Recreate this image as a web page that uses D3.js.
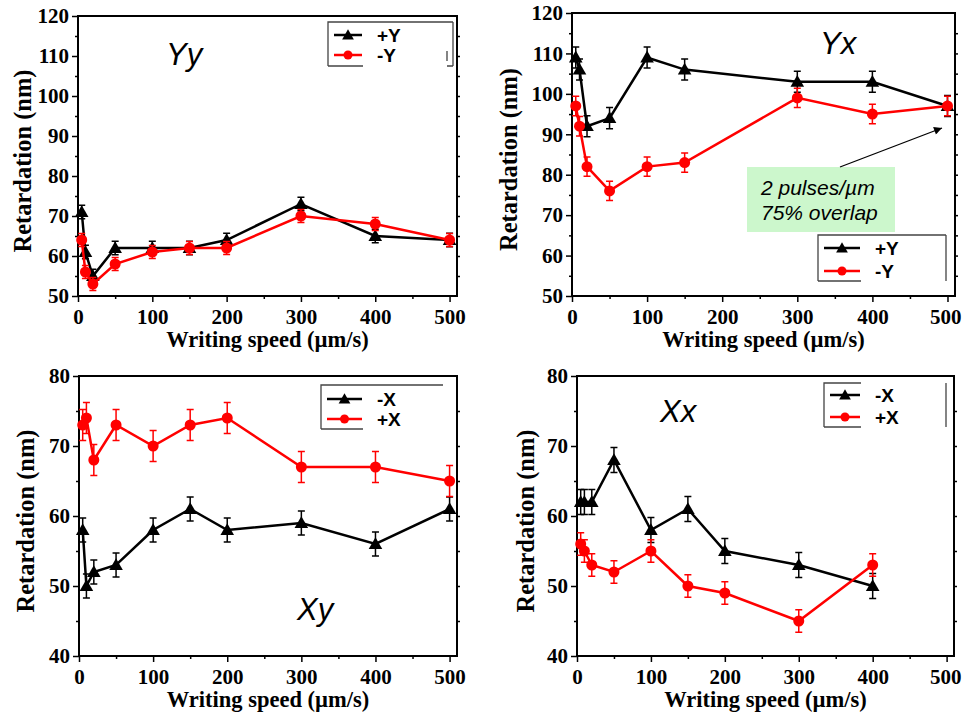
<!DOCTYPE html>
<html>
<head>
<meta charset="utf-8">
<script src="https://cdn.jsdelivr.net/npm/d3@7"></script>
<style>
  body { margin: 0; background: #fff; }
  .tick-label { font-family: "Liberation Serif", "Times New Roman", serif; font-weight: bold; font-size: 21px; }
  .axis-label { font-family: "Liberation Serif", "Times New Roman", serif; font-weight: bold; font-size: 22.5px; }
  .y-label { font-size: 24.5px; }
  .panel-name { font-family: "Liberation Sans", Arial, sans-serif; font-style: italic; font-size: 31px; }
  .legend-text { font-family: "Liberation Sans", Arial, sans-serif; font-weight: bold; font-size: 19px; }
  .note { font-family: "Liberation Sans", Arial, sans-serif; font-style: italic; font-size: 21px; }
</style>
</head>
<body>
<svg width="962" height="716"></svg>
<script>
const svg = d3.select('svg');
const width = +svg.attr('width');

// data
const speeds = [5, 10, 20, 50, 100, 150, 200, 300, 400, 500];
const speedsYx = [5, 10, 20, 50, 100, 150, 300, 400, 500];
const speedsXx = [5, 10, 20, 50, 100, 150, 200, 300, 400];

const yyPlusY  = [71, 61, 55, 62, 62, 62, 64, 73, 65, 64];
const yyMinusY = [64, 56, 53, 58, 61, 62, 62, 70, 68, 64];

const yxPlusY  = [109, 106, 92, 94, 109, 106, 103, 103, 97];
const yxMinusY = [97, 92, 82, 76, 82, 83, 99, 95, 97];

const xyMinusX = [58, 50, 52, 53, 58, 61, 58, 59, 56, 61];
const xyPlusX  = [73, 74, 68, 73, 70, 73, 74, 67, 67, 65];

const xxMinusX = [62, 62, 62, 68, 58, 61, 55, 53, 50];
const xxPlusX  = [56, 55, 53, 52, 55, 50, 49, 45, 53];

// error bar half-heights
const yyErr = [1.7, 1.6];
const yxErr = [2.6, 2.4];
const xyErr = [1.7, 2.2];
const xxErr = [1.8, 1.6];

const xTicks = [0, 100, 200, 300, 400, 500];
const yTicksTop = [50, 60, 70, 80, 90, 100, 110, 120];
const yTicksBottom = [40, 50, 60, 70, 80];

const panels = [
  { box: [78, 16, 457, 296], yDom: [50, 120], yTicks: yTicksTop, ylOff: 56, name: 'Yy', namePos: [166, 65],
    series: [
      { x: speeds, y: yyPlusY, err: yyErr[0], color: '#000', shape: 'tri', label: '+Y' },
      { x: speeds, y: yyMinusY, err: yyErr[1], color: '#ff0000', shape: 'circle', label: '-Y' }],
    legend: { x0: 328, y0: 22, x1: 453, y1: 66, bottomTo: 363, rightFrom: 22, topTo: 453, stub: true, rows: [35, 55] } },
  { box: [572, 13, 955, 296], yDom: [50, 120], yTicks: yTicksTop, ylOff: 64, name: 'Yx', namePos: [820, 54],
    series: [
      { x: speedsYx, y: yxPlusY, err: yxErr[0], color: '#000', shape: 'tri', label: '+Y' },
      { x: speedsYx, y: yxMinusY, err: yxErr[1], color: '#ff0000', shape: 'circle', label: '-Y' }],
    legend: { x0: 818, y0: 235, x1: 946, y1: 281, bottomTo: 861, rightFrom: 235, topTo: 946, stub: false, rows: [248, 271] } },
  { box: [79, 376, 457, 656], yDom: [40, 80], yTicks: yTicksBottom, ylOff: 54, name: 'Xy', namePos: [297, 620],
    series: [
      { x: speeds, y: xyMinusX, err: xyErr[0], color: '#000', shape: 'tri', label: '-X' },
      { x: speeds, y: xyPlusX, err: xyErr[1], color: '#ff0000', shape: 'circle', label: '+X' }],
    legend: { x0: 321, y0: 385, x1: 443, y1: 429, bottomTo: 363, rightFrom: null, topTo: 443, stub: false, rows: [399, 419] } },
  { box: [577, 376, 954, 656], yDom: [40, 80], yTicks: yTicksBottom, ylOff: 52, name: 'Xx', namePos: [660, 422],
    series: [
      { x: speedsXx, y: xxMinusX, err: xxErr[0], color: '#000', shape: 'tri', label: '-X' },
      { x: speedsXx, y: xxPlusX, err: xxErr[1], color: '#ff0000', shape: 'circle', label: '+X' }],
    legend: { x0: 824, y0: 383, x1: 946, y1: 427, bottomTo: 861, rightFrom: 383, topTo: 861, stub: false, rows: [395, 417] } }
];

const drawMarker = (sel, shape, color, cx, cy, small) => {
  if (shape === 'tri') {
    sel.append('path')
      .attr('d', d3.symbol(d3.symbolTriangle, small ? 60 : 80)())
      .attr('transform', `translate(${cx},${cy + 1})`)
      .attr('fill', color);
  } else {
    sel.append('circle')
      .attr('cx', cx).attr('cy', cy).attr('r', small ? 4.5 : 5.5)
      .attr('fill', color);
  }
};

const render = p => {
  const [l, t, r, b] = p.box;
  const xScale = d3.scaleLinear().domain([0, 510]).range([l, r]);
  const yScale = d3.scaleLinear().domain(p.yDom).range([b, t]);
  const g = svg.append('g');

  // axes
  const xAxis = d3.axisBottom(xScale).tickValues(xTicks).tickSize(6).tickPadding(6).tickFormat(d3.format('d'));
  const xMinor = d3.axisBottom(xScale).tickValues(d3.range(50, 510, 100)).tickSize(3).tickFormat('');
  const yAxis = d3.axisLeft(yScale).tickValues(p.yTicks).tickSize(6).tickPadding(3).tickFormat(d3.format('d'));
  const yMinor = d3.axisLeft(yScale).tickValues(p.yTicks.slice(0, -1).map(v => v + 5)).tickSize(3).tickFormat('');

  const xg = g.append('g').attr('transform', `translate(0,${b})`).call(xAxis);
  g.append('g').attr('transform', `translate(0,${b})`).call(xMinor);
  const yg = g.append('g').attr('transform', `translate(${l},0)`).call(yAxis);
  g.append('g').attr('transform', `translate(${l},0)`).call(yMinor);

  // small mirror ticks on the right
  g.append('g').attr('transform', `translate(${r},0)`)
    .call(d3.axisRight(yScale).tickValues(d3.range(p.yDom[0] + 5, p.yDom[1], 5)).tickSize(3).tickFormat(''));

  g.selectAll('.domain').remove();
  g.selectAll('.tick line').attr('stroke', '#000').attr('stroke-width', 1.5);
  xg.selectAll('text').attr('class', 'tick-label').attr('fill', '#000').attr('dy', '0.75em');
  yg.selectAll('text').attr('class', 'tick-label').attr('fill', '#000');

  // keep the last tick label inside the page
  xg.selectAll('text').each(function(d) {
    const right = xScale(d) + this.getComputedTextLength() / 2;
    if (right > width - 1) d3.select(this).attr('dx', width - 1 - right);
  });

  g.append('rect')
    .attr('x', l).attr('y', t).attr('width', r - l).attr('height', b - t)
    .attr('fill', 'none').attr('stroke', '#000').attr('stroke-width', 2);

  g.append('text')
    .attr('class', 'axis-label y-label')
    .attr('text-anchor', 'middle')
    .attr('transform', `translate(${l - p.ylOff},${(t + b) / 2 + 5}) rotate(-90)`)
    .attr('dy', '0.35em')
    .text('Retardation (nm)');

  g.append('text')
    .attr('class', 'axis-label')
    .attr('text-anchor', 'middle')
    .attr('x', (l + r) / 2)
    .attr('y', b + 51)
    .text('Writing speed (\u00b5m/s)');

  g.append('text')
    .attr('class', 'panel-name')
    .attr('x', p.namePos[0]).attr('y', p.namePos[1])
    .text(p.name);

  const line = d3.line().x(d => xScale(d[0])).y(d => yScale(d[1]));

  p.series.forEach(s => {
    const pts = s.x.map((x, i) => [x, s.y[i]]);
    g.append('path')
      .attr('d', line(pts))
      .attr('fill', 'none')
      .attr('stroke', s.color)
      .attr('stroke-width', 2.5);
    pts.forEach(([x, y]) => {
      const cx = xScale(x);
      const y0 = yScale(y - s.err), y1 = yScale(y + s.err);
      g.append('path')
        .attr('d', `M${cx},${y0}V${y1}M${cx - 3.5},${y0}H${cx + 3.5}M${cx - 3.5},${y1}H${cx + 3.5}`)
        .attr('stroke', s.color).attr('stroke-width', 1.5).attr('fill', 'none');
      drawMarker(g, s.shape, s.color, cx, yScale(y), false);
    });
  });

  // legend with its broken frame
  const lg = p.legend;
  let frame = `M${lg.x0},${lg.y1}V${lg.y0}H${lg.topTo}M${lg.x0},${lg.y1}H${lg.bottomTo}`;
  if (lg.rightFrom !== null) frame += `M${lg.x1},${lg.rightFrom}V${lg.y1}`;
  if (lg.stub) frame += `M${lg.x1 - 6},${lg.y1}H${lg.x1}M${lg.x1 - 6},${lg.y1 - 15}V${lg.y1 - 5}`;
  g.append('path').attr('d', frame).attr('fill', 'none').attr('stroke', '#444').attr('stroke-width', 1.3);

  p.series.forEach((s, i) => {
    const yy = lg.rows[i];
    const lx0 = lg.x0 + 6, lx1 = lg.bottomTo - 1;
    g.append('line')
      .attr('x1', lx0).attr('x2', lx1).attr('y1', yy).attr('y2', yy)
      .attr('stroke', s.color).attr('stroke-width', 2.5);
    drawMarker(g, s.shape, s.color, (lx0 + lx1) / 2, yy, true);
    g.append('text')
      .attr('class', 'legend-text')
      .attr('x', lg.bottomTo + 14).attr('y', yy)
      .attr('dy', '0.35em')
      .text(s.label);
  });
};

panels.forEach(render);

// annotation in the Yx panel
svg.append('defs').append('marker')
  .attr('id', 'arrow')
  .attr('viewBox', '0 0 10 10')
  .attr('refX', 10).attr('refY', 5)
  .attr('markerWidth', 12).attr('markerHeight', 8)
  .attr('markerUnits', 'userSpaceOnUse')
  .attr('orient', 'auto')
  .append('path').attr('d', 'M0,0L10,5L0,10Z').attr('fill', '#000');

svg.append('rect')
  .attr('x', 747).attr('y', 167).attr('width', 148).attr('height', 65)
  .attr('fill', '#ccf7cc');
svg.append('text').attr('class', 'note').attr('x', 761).attr('y', 195).text('2 pulses/\u00b5m');
svg.append('text').attr('class', 'note').attr('x', 761).attr('y', 220).text('75% overlap');
svg.append('line')
  .attr('x1', 840).attr('y1', 167).attr('x2', 942).attr('y2', 128)
  .attr('stroke', '#000').attr('stroke-width', 1.3)
  .attr('marker-end', 'url(#arrow)');
</script>
</body>
</html>
